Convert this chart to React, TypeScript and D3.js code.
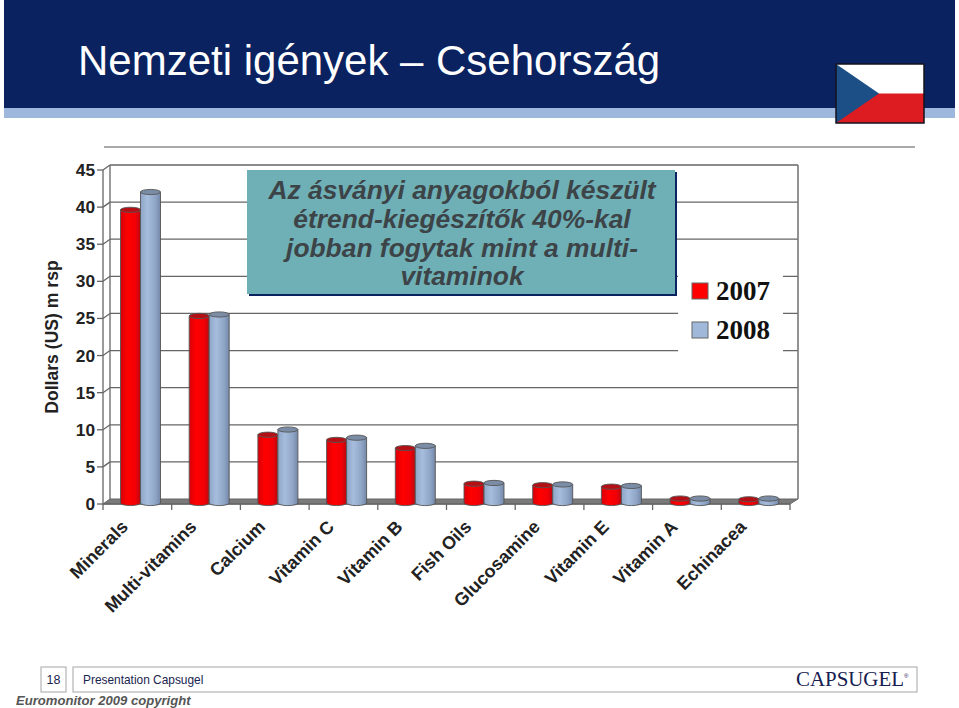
import React from "react";
import { scaleBand, scaleLinear, range } from "d3";

const categories = ["Minerals", "Multi-vitamins", "Calcium", "Vitamin C", "Vitamin B", "Fish Oils", "Glucosamine", "Vitamin E", "Vitamin A", "Echinacea"];
const years = ["2007", "2008"];
const values2007 = [39.5, 25.2, 9.2, 8.5, 7.4, 2.6, 2.4, 2.2, 0.6, 0.5];
const values2008 = [41.9, 25.4, 9.9, 8.8, 7.7, 2.7, 2.5, 2.3, 0.6, 0.6];
const yTicks = range(0, 50, 5);
const calloutLines = ["Az ásványi anyagokból készült", "étrend-kiegészítők 40%-kal", "jobban fogytak mint a multi-", "vitaminok"];

const SANS = "'Liberation Sans', Arial, sans-serif";
const SERIF = "'Liberation Serif', 'Times New Roman', serif";
const DEPTH_X = 7;
const DEPTH_Y = 5;

const x = scaleBand<string>().domain(categories).range([103, 790]);
const barX = scaleBand<string>().domain(years).range([14.5, 54.5]);
const y = scaleLinear().domain([0, 45]).range([504, 170]);

function Cylinder({ cx, w, value, year }: { cx: number; w: number; value: number; year: string }) {
  const top = y(value) - 1;
  const bottom = y(0) - 1;
  const rx = w / 2;
  const ry = 2.6;
  const body = `M${cx - rx},${top}V${bottom}A${rx},${ry} 0 0 0 ${cx + rx},${bottom}V${top}Z`;
  return (
    <g stroke="#555" strokeWidth={0.9}>
      <path d={body} fill={`url(#cyl${year})`} />
      <ellipse cx={cx} cy={top} rx={rx} ry={ry} fill={year === "2007" ? "#b30f14" : "#7b8da6"} />
    </g>
  );
}

export default function App() {
  return (
    <svg width={959} height={708} style={{ position: "absolute", left: 0, top: 0, display: "block", background: "#fff" }}>
      <defs>
        <linearGradient id="cyl2007">
          <stop offset="0" stopColor="#d80008" />
          <stop offset="0.35" stopColor="#ff0000" />
          <stop offset="0.75" stopColor="#f20006" />
          <stop offset="1" stopColor="#b80a10" />
        </linearGradient>
        <linearGradient id="cyl2008">
          <stop offset="0" stopColor="#8ea5c6" />
          <stop offset="0.35" stopColor="#a6bddd" />
          <stop offset="0.75" stopColor="#8fa5c6" />
          <stop offset="1" stopColor="#7488a8" />
        </linearGradient>
      </defs>

      {/* header */}
      <rect x={4} y={0} width={951} height={108} fill="#0a2260" />
      <rect x={4} y={108} width={951} height={10} fill="#9db8dc" />
      <text x={78} y={75} fontFamily={SANS} fontSize={42} fill="#fff">Nemzeti igények</text>
      <text x={400} y={75} fontFamily={SANS} fontSize={42} fill="#fff">–</text>
      <text x={436} y={75} fontFamily={SANS} fontSize={42} fill="#fff">Csehország</text>
      <g>
        <rect x={836} y={64} width={88} height={59} fill="#fff" />
        <rect x={836} y={93.5} width={88} height={29.5} fill="#dc1c20" />
        <path d="M836,64L879,93.5L836,123Z" fill="#1b4f86" />
        <rect x={836} y={64} width={88} height={59} fill="none" stroke="#15121c" strokeWidth={1.5} />
      </g>
      <line x1={104} x2={915} y1={147} y2={147} stroke="#555" strokeWidth={1.2} />

      {/* 3d frame */}
      <path d={`M103,${y(0)}L${103 + DEPTH_X},${y(0) - DEPTH_Y}H798L790,${y(0)}Z`} fill="#7a7a7a" stroke="#666" />
      {yTicks.slice(1).map(t => (
        <g key={t} stroke="#666" strokeWidth={1.3}>
          <line x1={103} y1={y(t)} x2={103 + DEPTH_X} y2={y(t) - DEPTH_Y} />
          <line x1={103 + DEPTH_X} x2={798} y1={y(t) - DEPTH_Y} y2={y(t) - DEPTH_Y} />
        </g>
      ))}
      <line x1={110} x2={110} y1={y(45) - DEPTH_Y} y2={y(0) - DEPTH_Y} stroke="#666" strokeWidth={1.3} />
      <line x1={798} x2={798} y1={y(45) - DEPTH_Y} y2={y(0) - DEPTH_Y} stroke="#777" strokeWidth={1.6} />
      <line x1={103} x2={103} y1={y(45)} y2={y(0)} stroke="#666" strokeWidth={1.3} />
      <line x1={103} x2={790} y1={y(0)} y2={y(0)} stroke="#666" strokeWidth={1.3} />

      {/* y axis */}
      {yTicks.map(t => (
        <g key={t}>
          <line x1={97} x2={103} y1={y(t)} y2={y(t)} stroke="#666" strokeWidth={1.3} />
          <text x={95} y={y(t) + 6} textAnchor="end" fontFamily={SANS} fontWeight="bold" fontSize={17.3} fill="#222">{t}</text>
        </g>
      ))}
      <text transform="translate(58,337) rotate(-90)" textAnchor="middle" fontFamily={SANS} fontWeight="bold" fontSize={17.6} fill="#222">Dollars (US) m rsp</text>

      {/* x axis ticks and labels */}
      {[...categories.map(c => x(c) as number), 790].map((t, i) => (
        <line key={i} x1={t} x2={t} y1={y(0)} y2={y(0) + 6} stroke="#666" strokeWidth={1.3} />
      ))}
      {categories.map(c => (
        <text key={c} transform={`translate(${(x(c) as number) + 26},${y(0) + 24}) rotate(-45)`} textAnchor="end" fontFamily={SANS} fontWeight="bold" fontSize={18} fill="#222">{c}</text>
      ))}

      {/* bars */}
      {categories.map((c, i) => years.map(yr => (
        <Cylinder
          key={c + yr}
          cx={(x(c) as number) + (barX(yr) as number) + barX.bandwidth() / 2 + 3}
          w={barX.bandwidth()}
          value={(yr === "2007" ? values2007 : values2008)[i]}
          year={yr}
        />
      )))}

      {/* legend */}
      <rect x={678} y={268} width={105} height={92} fill="#fff" />
      {years.map((yr, i) => (
        <g key={yr}>
          <rect x={692} y={283 + i * 39} width={16} height={16} fill={yr === "2007" ? "#ff0000" : "#a0b8da"} stroke="#666" />
          <text x={716} y={300 + i * 39} fontFamily={SERIF} fontWeight="bold" fontSize={27} fill="#111">{yr}</text>
        </g>
      ))}

      {/* callout */}
      <rect x={249} y={172} width={428} height={124} fill="#0a2260" />
      <rect x={247} y={170} width={428} height={124} fill="#6fb0b7" />
      {calloutLines.map((l, i) => (
        <text key={l} x={462} y={199 + i * 29 - (i === 3 ? 1 : 0)} textAnchor="middle" fontFamily={SANS} fontWeight="bold" fontStyle="italic" fontSize={26.4} fill="#3d4448">{l}</text>
      ))}

      {/* footer */}
      <rect x={41} y={667} width={25} height={25} fill="#fff" stroke="#a5a5a5" />
      <rect x={73} y={667} width={844} height={25} fill="#fff" stroke="#a5a5a5" />
      <text x={53.5} y={684} textAnchor="middle" fontFamily={SANS} fontSize={12.5} fill="#1a2550">18</text>
      <text x={83} y={684} fontFamily={SANS} fontSize={11.9} fill="#1a2550">Presentation Capsugel</text>
      <text x={16} y={705} fontFamily={SANS} fontWeight="bold" fontStyle="italic" fontSize={13.1} fill="#555">Euromonitor 2009 copyright</text>
      <text x={796} y={686} fontFamily={SERIF} fontSize={20} fill="#16204f" textLength={108} lengthAdjust="spacingAndGlyphs">CAPSUGEL</text>
      <text x={904} y={678} fontFamily={SANS} fontSize={6} fill="#16204f">®</text>
    </svg>
  );
}
